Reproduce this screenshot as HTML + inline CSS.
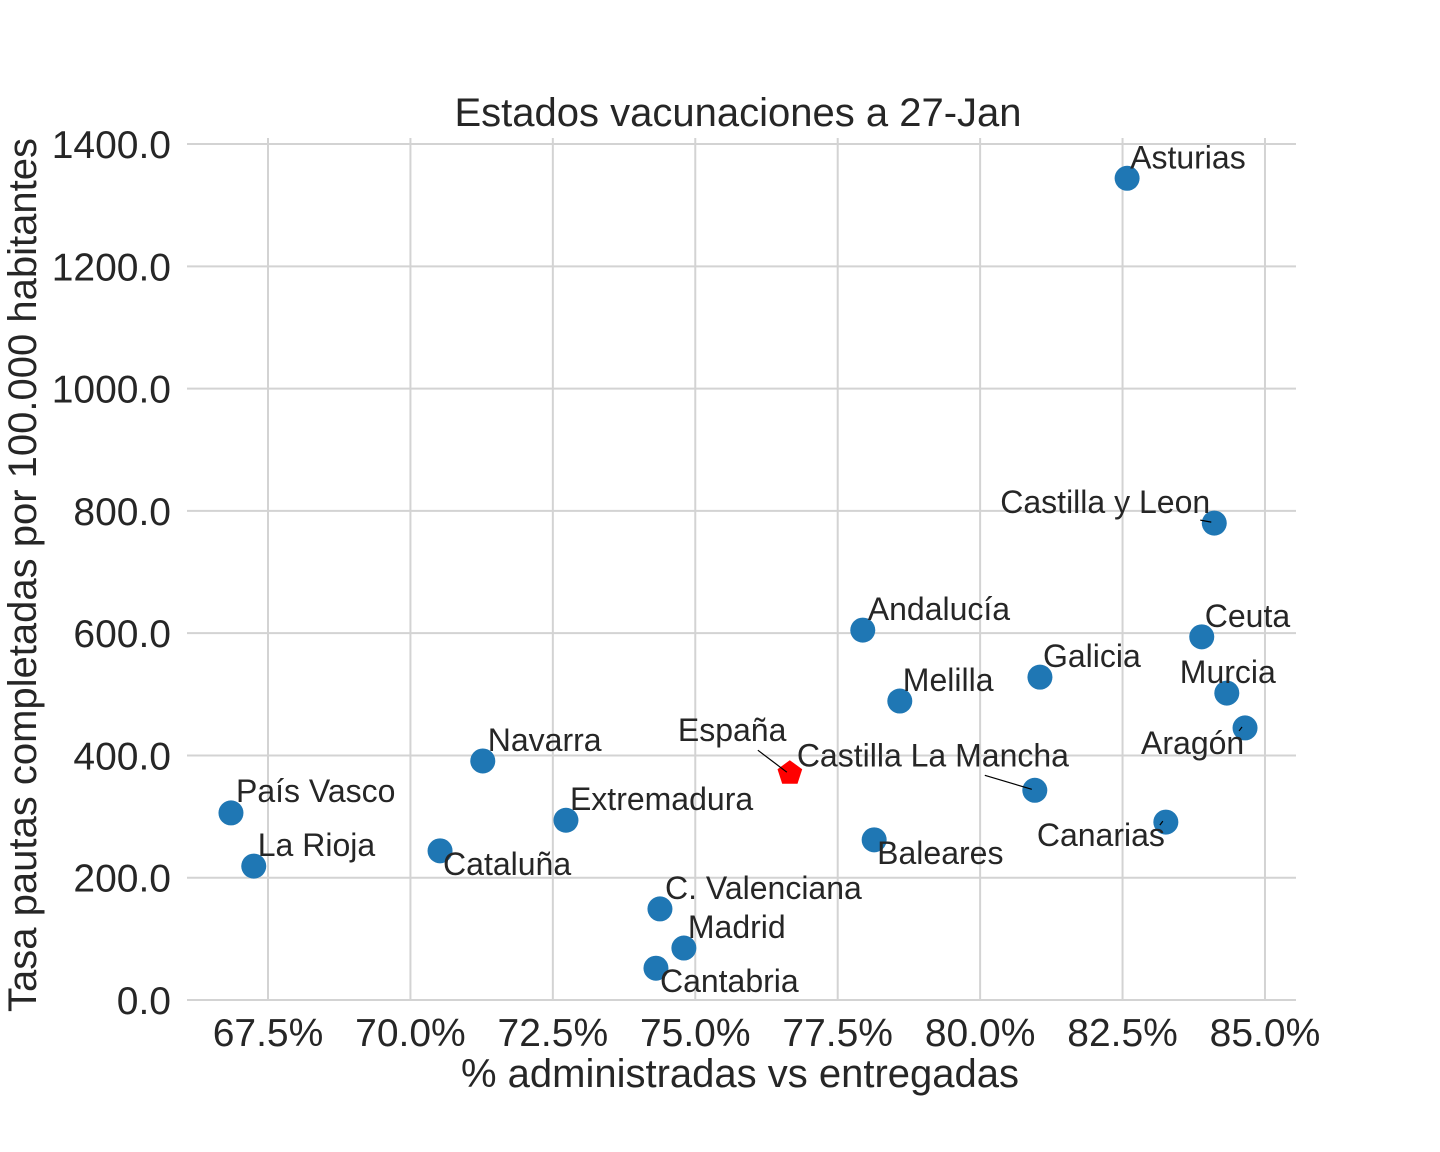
<!DOCTYPE html>
<html><head><meta charset="utf-8"><style>
html,body{margin:0;padding:0;background:#fff;}
svg{display:block;font-family:"Liberation Sans",Arial,sans-serif;}
</style></head><body>
<svg id="chart" width="1440" height="1152" viewBox="0 0 1440 1152" xmlns="http://www.w3.org/2000/svg">
<rect width="1440" height="1152" fill="#fff"/>
<text x="738" y="126" text-anchor="middle" font-size="40" fill="#262626">Estados vacunaciones a 27-Jan</text>
<g id="grid"></g><g id="ticks"></g><g id="marks"></g>
<text x="740" y="1087" text-anchor="middle" font-size="40" fill="#262626">% administradas vs entregadas</text>
<text transform="translate(36,575) rotate(-90)" text-anchor="middle" font-size="40" fill="#262626">Tasa pautas completadas por 100.000 habitantes</text>
</svg>
<script>
const regions = ["Asturias","Castilla y Leon","Ceuta","Murcia","Aragón","Canarias","Galicia","Castilla La Mancha","Andalucía","Melilla","Baleares","España","Navarra","Extremadura","Cataluña","País Vasco","La Rioja","C. Valenciana","Madrid","Cantabria"];
const pctAdmin = [82.58,84.11,83.89,84.33,84.65,83.26,81.05,80.96,77.94,78.59,78.14,76.66,71.27,72.73,70.52,66.85,67.25,74.38,74.80,74.31];
const tasa = [1344,780,594,502,445,291,528,343,605,489,262,371,391,294,244,306,219,149,85,52];
const xTicks = [67.5,70,72.5,75,77.5,80,82.5,85];
const yTicks = [0,200,400,600,800,1000,1200,1400];
const labelDx = [3,-214,3,-47,-104,-129,3,-238,5,3,3,-112,5,4,3,5,4,5,4,4];
const labelDy = [-10,-10,-10,-10,26,24,-10,-24,-10,-10,24,-32,-10,-10,24,-11,-10,-10,-10,24];

const xS = v => 268 + (v - 67.5) * 56.97;
const yS = v => 1000 - v * 0.6114;
const NS = "http://www.w3.org/2000/svg";
const mk = (tag, attrs, parent) => { const e = document.createElementNS(NS, tag); for (const k in attrs) e.setAttribute(k, attrs[k]); parent.appendChild(e); return e; };
const grid = document.getElementById('grid'), ticks = document.getElementById('ticks'), marks = document.getElementById('marks');
const L = 187, R = 1296, T = 138, B = 1000;

xTicks.forEach(t => {
  const l = mk('line', {x1: xS(t), x2: xS(t), y1: T, y2: B, stroke: '#d3d3d3', 'stroke-width': 2}, grid);
  
  
  const tx = mk('text', {x: xS(t), y: 1046, 'text-anchor': 'middle', 'font-size': 39, fill: '#262626'}, ticks);
  tx.textContent = t.toFixed(1) + '%';
  
  
});
yTicks.forEach(t => {
  const l = mk('line', {x1: L, x2: R, y1: yS(t), y2: yS(t), stroke: '#d3d3d3', 'stroke-width': 2}, grid);
  
  
  const tx = mk('text', {x: 171, y: yS(t) + 14, 'text-anchor': 'end', 'font-size': 39, fill: '#262626'}, ticks);
  tx.textContent = t.toFixed(1);
  
  
});

regions.forEach((r, i) => {
  const cx = xS(pctAdmin[i]), cy = yS(tasa[i]);
  const g = mk('g', {}, marks);
  
  
  if (r === 'España') {
    const pts = [];
    for (let k = 0; k < 5; k++) { const a = -Math.PI/2 + k * 2*Math.PI/5; pts.push((cx + 13*Math.cos(a)).toFixed(1) + ',' + (cy + 13*Math.sin(a)).toFixed(1)); }
    mk('polygon', {points: pts.join(' '), fill: '#ff0000'}, g);
  } else {
    mk('circle', {cx: cx, cy: cy, r: 12.5, fill: '#1f77b4'}, g);
  }
  const lx = cx + labelDx[i], ly = cy + labelDy[i];
  if (Math.abs(labelDx[i]) > 50 || Math.abs(labelDy[i]) > 28) {
    let ax = labelDx[i] < -150 ? lx + (r === 'Castilla La Mancha' ? 188 : 200) : lx + 80;
    let ay = labelDy[i] < 0 ? ly + (r === 'Castilla y Leon' ? 7 : 9) : ly - 20;
    if (r === 'Aragón' || r === 'Canarias') { ax = cx - 6; ay = cy + 3; }
    mk('line', {x1: ax, y1: ay, x2: cx - 3, y2: cy - 1, stroke: '#000', 'stroke-width': 1.2}, g);
  }
  const t = mk('text', {x: lx, y: ly, 'font-size': 32, fill: '#262626'}, g);
  t.textContent = r;
});
</script>
</body></html>
